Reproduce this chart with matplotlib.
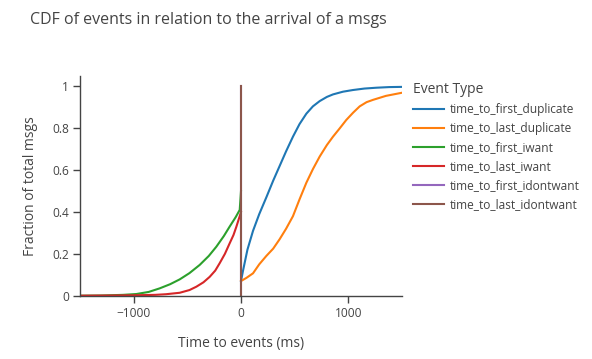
import matplotlib.pyplot as plt

plt.rcParams['font.family'] = ['Open Sans', 'DejaVu Sans']

# CDF points (ms, fraction)
first_dup_x = [0, 19, 60, 112, 170, 236, 300, 360, 420, 484, 545, 609, 670, 733, 800, 857, 950, 1043, 1150, 1261, 1380, 1500]
first_dup_y = [0.07, 0.12, 0.22, 0.31, 0.39, 0.47, 0.55, 0.62, 0.69, 0.76, 0.82, 0.87, 0.905, 0.93, 0.95, 0.962, 0.975, 0.983, 0.99, 0.994, 0.997, 0.998]

last_dup_x = [0, 50, 112, 170, 236, 300, 360, 420, 484, 545, 609, 670, 733, 800, 857, 920, 981, 1045, 1106, 1170, 1230, 1350, 1500]
last_dup_y = [0.07, 0.085, 0.107, 0.15, 0.19, 0.225, 0.27, 0.32, 0.38, 0.46, 0.54, 0.605, 0.665, 0.72, 0.76, 0.80, 0.84, 0.875, 0.905, 0.925, 0.936, 0.955, 0.97]

first_iwant_x = [-1500, -1300, -1100, -975, -860, -758, -660, -571, -480, -385, -300, -230, -160, -106, -50, -12, 0]
first_iwant_y = [0.0, 0.001, 0.004, 0.008, 0.018, 0.035, 0.055, 0.078, 0.108, 0.147, 0.19, 0.234, 0.285, 0.33, 0.375, 0.41, 0.5]

last_iwant_x = [-1500, -1200, -1000, -800, -700, -571, -480, -416, -350, -292, -240, -199, -150, -106, -70, -43, -12, 0]
last_iwant_y = [0.0, 0.001, 0.002, 0.004, 0.007, 0.014, 0.027, 0.043, 0.064, 0.09, 0.12, 0.155, 0.2, 0.25, 0.29, 0.33, 0.38, 0.4]

first_idw_x = [0, 0]
first_idw_y = [0, 1]
last_idw_x = [0, 0]
last_idw_y = [0, 1]

series = [
    ('time_to_first_duplicate', first_dup_x, first_dup_y, '#1f77b4'),
    ('time_to_last_duplicate', last_dup_x, last_dup_y, '#ff7f0e'),
    ('time_to_first_iwant', first_iwant_x, first_iwant_y, '#2ca02c'),
    ('time_to_last_iwant', last_iwant_x, last_iwant_y, '#d62728'),
    ('time_to_first_idontwant', first_idw_x, first_idw_y, '#9467bd'),
    ('time_to_last_idontwant', last_idw_x, last_idw_y, '#8c564b'),
]

grey = '#444444'
fig = plt.figure(figsize=(5.92, 3.59), dpi=100)
ax = fig.add_axes([80 / 592, 1 - 295.7 / 359, 322 / 592, (295.7 - 76) / 359])

for name, xs, ys, c in series:
    ax.plot(xs, ys, color=c, lw=1.5, label=name)

ax.set_xlim(-1500, 1500)
ax.set_ylim(0, 1.05)
ax.set_xticks([-1000, 0, 1000])
ax.set_xticklabels(['\u22121000', '0', '1000'])
ax.set_yticks([0, 0.2, 0.4, 0.6, 0.8, 1])
ax.set_yticklabels(['0', '0.2', '0.4', '0.6', '0.8', '1'])
for s in ['top', 'right']:
    ax.spines[s].set_visible(False)
for s in ['left', 'bottom']:
    ax.spines[s].set_color(grey)
    ax.spines[s].set_linewidth(1)
ax.tick_params(colors=grey, labelsize=8.6, length=5, width=1, pad=3)

ax.set_xlabel('Time to events (ms)', fontsize=10, color=grey, labelpad=12)
ax.set_ylabel('Fraction of total msgs', fontsize=10, color=grey, labelpad=10)

fig.text(30 / 592, 1 - 20 / 359, 'CDF of events in relation to the arrival of a msgs',
         fontsize=11.5, color=grey, va='center', ha='left')

leg = ax.legend(loc='upper left', bbox_to_anchor=(413 / 592, 1 - 82 / 359),
                bbox_transform=fig.transFigure, frameon=False, title='Event Type',
                fontsize=8.6, title_fontsize=10, handlelength=2.6, handletextpad=0.5,
                labelspacing=0.5, borderaxespad=0, borderpad=0)
leg._legend_box.align = 'left'
leg.get_title().set_color(grey)
for t in leg.get_texts():
    t.set_color(grey)

fig.savefig('out.png', dpi=100)
